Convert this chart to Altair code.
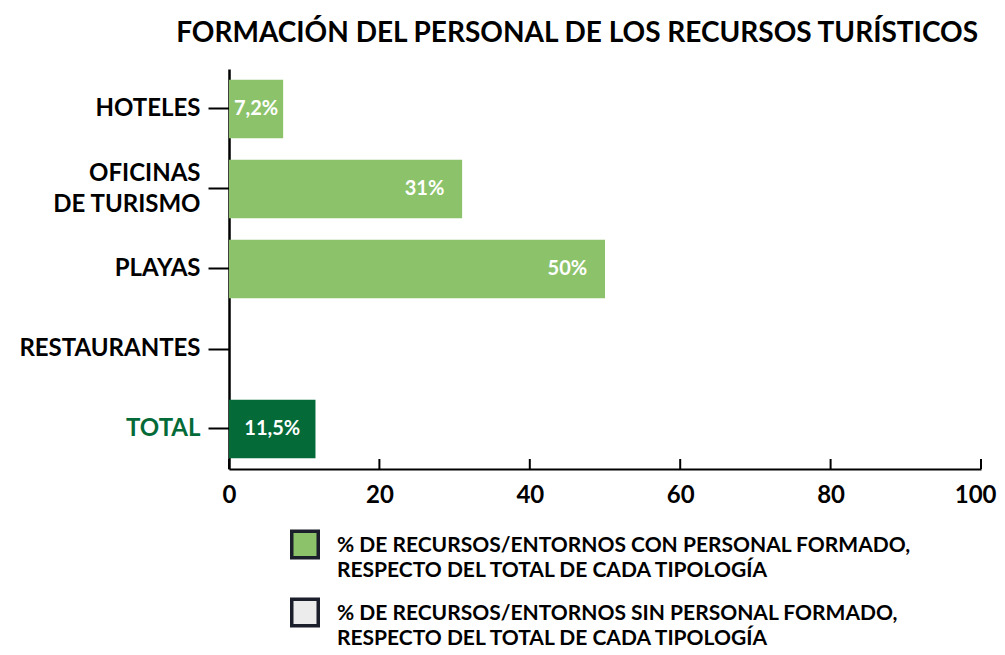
import altair as alt
import pandas as pd

categorias = ["HOTELES", "OFICINAS DE TURISMO", "PLAYAS", "RESTAURANTES", "TOTAL"]
con_formacion = [7.2, 31, 50, 0, 11.5]
etiquetas = ["7,2%", "31%", "50%", "", "11,5%"]
series = [
    "% DE RECURSOS/ENTORNOS CON PERSONAL FORMADO,|RESPECTO DEL TOTAL DE CADA TIPOLOGÍA",
    "% DE RECURSOS/ENTORNOS SIN PERSONAL FORMADO,|RESPECTO DEL TOTAL DE CADA TIPOLOGÍA",
]
marcas_x = [0, 20, 40, 60, 80, 100]

FONT = "Lato"
VERDE = "#8cc36a"
VERDE_OSC = "#046a38"
GRIS = "#ececec"

df = pd.DataFrame({
    "cat": categorias,
    "valor": con_formacion,
    "etiqueta": etiquetas,
    "serie": [series[0]] * len(categorias),
})
df_ticks = pd.DataFrame({"v": marcas_x})

W, H = 752, 400

x_scale = alt.Scale(domain=[0, 100], nice=False, zero=True)
y_enc = alt.Y(
    "cat:N", sort=categorias, title=None,
    scale=alt.Scale(paddingInner=0.27, paddingOuter=0.135),
    axis=alt.Axis(
        labelExpr="datum.value == 'OFICINAS DE TURISMO' ? ['OFICINAS', 'DE TURISMO'] : datum.value",
        labelColor={"condition": {"test": "datum.value == 'TOTAL'", "value": VERDE_OSC}, "value": "#000000"},
        labelOffset={"condition": {"test": "datum.value == 'OFICINAS DE TURISMO'", "value": -15}, "value": 0},
        labelFont=FONT, labelFontSize=24, labelFontWeight="bold", labelLineHeight=31,
        labelPadding=8, tickSize=21, tickWidth=2, tickColor="#000000",
        domainColor="#000000", domainWidth=2.5, labelLimit=0,
    ),
)

bars = alt.Chart(df).mark_bar().encode(
    x=alt.X(
        "valor:Q", scale=x_scale, title=None,
        axis=alt.Axis(values=marcas_x, ticks=False, grid=False, labelFont=FONT,
                      labelFontSize=24, labelFontWeight="bold", labelColor="#000000",
                      labelPadding=14, domainColor="#000000", domainWidth=2,
                      labelFlush=False,
                      labelAlign={"condition": {"test": "datum.value == 100", "value": "right"}, "value": "center"},
                      labelOffset={"condition": {"test": "datum.value == 100", "value": 15}, "value": 0}),
    ),
    y=y_enc,
    color=alt.condition(
        "datum.cat == 'TOTAL'",
        alt.value(VERDE_OSC),
        alt.Color(
            "serie:N",
            scale=alt.Scale(domain=series, range=[VERDE, GRIS]),
            legend=alt.Legend(
                title=None, orient="none", legendX=61, legendY=468,
                symbolType="M-1,-1.57H1V0.43H-1Z", symbolSize=702,
                symbolStrokeColor="#1b1e2b", symbolStrokeWidth=3.5, symbolOpacity=1,
                labelFont=FONT, labelFontSize=21, labelFontWeight="bold",
                labelColor="#000000", labelExpr="split(datum.label, '|')",
                labelBaseline="alphabetic", labelOffset=17,
                labelLimit=0, rowPadding=11,
            ),
        ),
    ),
)

text = alt.Chart(df).transform_calculate(
    pos="datum.valor < 15 ? datum.valor / 2 : datum.valor - 5"
).mark_text(
    color="white", font=FONT, fontSize=20, fontWeight="bold", align="center", baseline="middle"
).encode(
    x=alt.X("pos:Q", scale=x_scale),
    y=alt.Y("cat:N", sort=categorias),
    text="etiqueta:N",
)

ticks = alt.Chart(df_ticks).mark_rule(color="#000000", strokeWidth=2).encode(
    x=alt.X("v:Q", scale=x_scale),
    y=alt.value(H - 10),
    y2=alt.value(H),
)

chart = alt.layer(bars, text, ticks).properties(
    width=W, height=H,
    title=alt.TitleParams(
        "FORMACIÓN DEL PERSONAL DE LOS RECURSOS TURÍSTICOS",
        font=FONT, fontSize=28, fontWeight="bold", color="#000000",
        anchor="end", frame="group", offset=21, dx=-3,
    ),
    autosize=alt.AutoSizeParams(type="none"),
    padding={"left": 221, "top": 61, "right": 16, "bottom": 178},
).configure(
    style={"guide-label": {"lineHeight": 24.5}}
).configure_view(stroke=None).configure_axis(grid=False)

chart.save("out.html", embed_options={"renderer": "svg", "actions": False})
